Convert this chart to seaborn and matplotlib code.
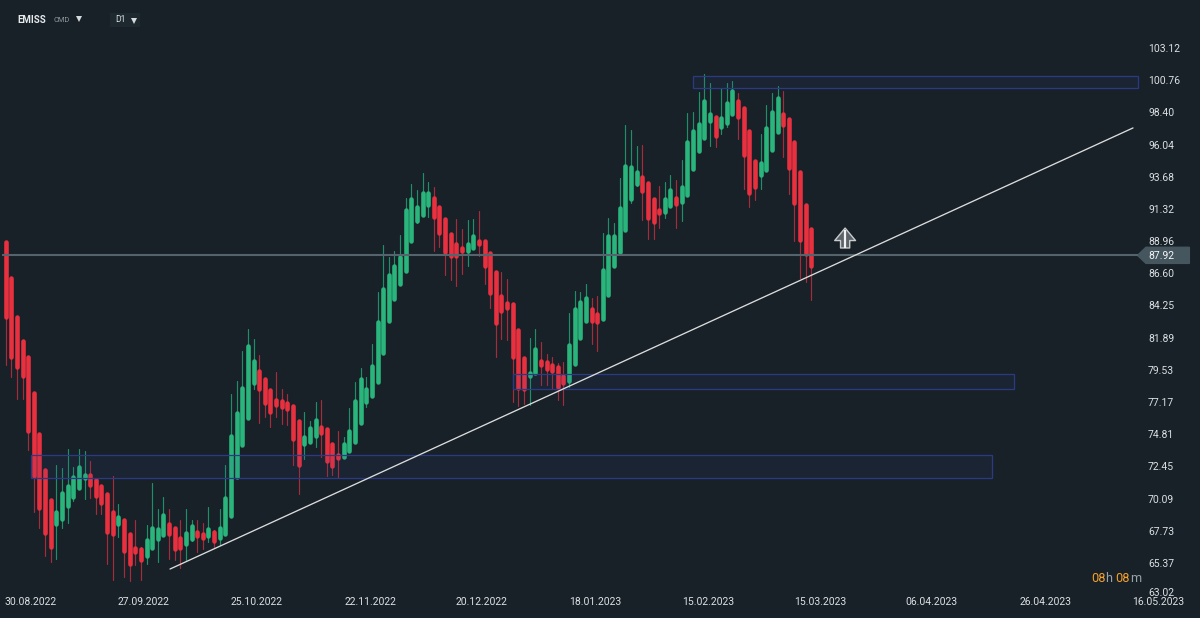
import matplotlib
matplotlib.use("Agg")
import matplotlib.pyplot as plt
from matplotlib.patches import Rectangle
import pandas as pd
import seaborn as sns

BG = "#182128"
UP_BODY, UP_WICK = "#2ab57d", "#1f8f68"
DOWN_BODY, DOWN_WICK = "#e8303f", "#a52c3c"
TEXT = "#dbe0e3"

open_prices = [
    88.88, 86.24, 83.38, 81.64, 80.44, 77.80, 74.82, 72.18, 69.98, 68.20,
    68.62, 69.54, 70.23, 70.89, 71.60, 71.79, 71.45, 71.01, 70.42, 69.08,
    68.22, 68.52, 67.47, 66.44, 66.39, 65.90, 66.44, 67.15, 67.39, 68.22,
    67.96, 67.20, 66.78, 67.10, 67.64, 67.52, 67.34, 67.64, 67.20, 67.52,
    68.81, 71.69, 74.01, 76.02, 78.56, 79.46, 78.85, 78.05, 77.29, 77.24,
    77.09, 76.90, 75.77, 74.06, 74.26, 74.70, 75.36, 75.19, 74.06, 73.30,
    73.13, 73.57, 74.26, 75.65, 77.14, 77.61, 78.61, 80.76, 83.08, 84.74,
    85.84, 86.75, 88.95, 90.46, 90.90, 91.63, 92.10, 91.46, 90.56, 89.46,
    88.75, 88.43, 88.24, 88.43, 88.95, 88.95, 88.09, 86.70, 84.91, 84.40,
    84.33, 82.42, 80.37, 79.10, 79.27, 80.17, 80.07, 79.88, 79.71, 79.10,
    78.73, 79.93, 81.88, 83.13, 84.01, 83.64, 83.27, 85.04, 87.11, 88.19,
    89.75, 92.03, 93.13, 93.66, 93.22, 92.03, 91.27, 91.07, 91.54, 92.12,
    91.86, 92.35, 94.25, 95.57, 96.50, 97.77, 98.09, 97.33, 97.65, 98.31,
    99.21, 98.72, 97.06, 94.84, 93.84, 94.18, 95.67, 96.99, 98.26, 97.94,
    96.23, 94.03, 91.61, 89.88,
]
high_prices = [
    88.88, 86.24, 83.38, 81.64, 80.44, 77.80, 74.82, 72.18, 69.98, 72.55,
    72.31, 73.70, 72.43, 73.75, 73.58, 72.87, 71.57, 71.01, 70.47, 71.77,
    69.67, 68.52, 67.47, 68.52, 66.56, 68.15, 71.21, 69.32, 70.23, 69.30,
    67.96, 68.52, 69.30, 68.52, 68.52, 68.27, 69.49, 67.78, 69.32, 72.55,
    77.73, 78.73, 80.93, 82.52, 81.76, 80.61, 78.85, 78.05, 79.39, 78.10,
    77.73, 76.90, 75.77, 76.46, 75.77, 77.19, 77.31, 75.19, 74.06, 75.06,
    74.62, 76.75, 78.66, 79.63, 78.98, 81.42, 85.21, 88.68, 87.82, 88.24,
    89.41, 92.15, 93.13, 92.71, 93.93, 93.32, 92.95, 91.46, 90.56, 89.46,
    90.56, 89.85, 90.51, 90.56, 91.17, 88.95, 88.09, 86.70, 86.67, 86.16,
    84.33, 82.42, 80.37, 81.83, 82.52, 81.59, 80.69, 80.49, 80.05, 80.07,
    83.72, 85.30, 85.26, 85.82, 84.77, 84.94, 89.53, 90.68, 90.27, 93.62,
    97.48, 97.11, 95.94, 96.01, 93.22, 92.03, 92.98, 93.27, 93.84, 93.44,
    94.91, 98.33, 98.46, 99.92, 101.19, 100.58, 98.09, 100.17, 100.58, 100.70,
    99.80, 98.72, 97.06, 94.84, 96.82, 98.94, 99.85, 100.34, 99.97, 97.94,
    96.23, 94.03, 91.61, 89.88,
]
low_prices = [
    79.88, 79.03, 77.36, 77.36, 73.65, 69.13, 67.91, 65.90, 65.46, 65.63,
    67.91, 68.27, 69.94, 70.84, 70.03, 70.15, 68.96, 68.93, 65.27, 64.12,
    67.30, 64.31, 64.04, 65.22, 64.12, 65.27, 66.39, 65.46, 67.34, 65.63,
    65.58, 64.97, 65.58, 66.98, 66.20, 66.37, 66.88, 66.44, 66.68, 67.49,
    68.76, 71.65, 74.01, 76.02, 78.10, 75.60, 76.04, 75.36, 76.09, 75.53,
    75.48, 72.55, 70.40, 72.96, 74.26, 73.89, 73.16, 71.74, 71.81, 71.62,
    73.11, 73.52, 74.26, 75.65, 76.77, 77.61, 78.61, 80.76, 83.08, 84.74,
    85.84, 86.75, 88.95, 90.27, 90.88, 90.71, 88.24, 88.56, 86.48, 86.11,
    85.65, 86.53, 87.16, 88.43, 87.87, 85.82, 84.03, 80.49, 81.79, 81.71,
    77.19, 76.90, 77.00, 76.95, 79.27, 78.41, 78.41, 78.10, 77.31, 76.95,
    78.29, 79.93, 81.88, 83.13, 81.42, 80.93, 83.27, 85.04, 87.11, 88.19,
    89.75, 91.73, 93.03, 90.51, 89.09, 89.12, 89.90, 90.63, 91.49, 89.90,
    90.44, 92.35, 94.25, 95.57, 96.50, 95.94, 95.84, 96.82, 97.36, 98.31,
    96.45, 92.76, 91.49, 91.98, 92.76, 94.18, 95.67, 96.99, 95.16, 92.42,
    88.95, 86.24, 85.99, 84.65,
]
close_prices = [
    83.38, 80.44, 79.76, 79.08, 75.07, 71.77, 69.42, 67.59, 66.51, 69.13,
    70.52, 71.03, 71.65, 72.43, 71.79, 71.11, 70.30, 69.76, 67.66, 67.52,
    68.71, 66.27, 65.27, 66.20, 65.58, 67.05, 67.93, 67.83, 68.88, 67.52,
    66.39, 66.44, 67.56, 68.08, 67.32, 67.20, 67.83, 66.95, 67.93, 70.15,
    74.68, 76.39, 78.17, 81.27, 80.20, 78.10, 77.09, 76.46, 76.95, 76.82,
    76.65, 74.48, 72.57, 74.58, 75.26, 75.82, 74.89, 72.87, 72.45, 73.08,
    74.06, 75.06, 77.21, 78.85, 78.10, 79.81, 83.01, 85.45, 86.48, 87.11,
    87.82, 91.24, 92.07, 91.46, 92.49, 92.49, 90.73, 89.58, 88.16, 87.87,
    87.87, 88.24, 88.75, 89.31, 88.75, 87.16, 85.16, 82.93, 83.86, 84.08,
    80.49, 78.17, 78.10, 79.27, 81.05, 79.88, 79.56, 79.44, 78.29, 78.56,
    81.32, 83.96, 84.50, 84.77, 83.08, 83.03, 86.85, 89.36, 89.36, 91.37,
    94.47, 94.42, 94.03, 92.66, 90.63, 90.39, 91.00, 92.03, 92.71, 91.66,
    92.93, 96.23, 97.01, 97.55, 99.21, 98.26, 96.70, 98.01, 99.09, 99.95,
    98.06, 95.30, 92.52, 92.96, 94.67, 97.23, 98.46, 99.46, 97.50, 94.35,
    91.76, 89.05, 87.99, 87.14,
]

date_labels = ["30.08.2022", "27.09.2022", "25.10.2022", "22.11.2022", "20.12.2022",
               "18.01.2023", "15.02.2023", "15.03.2023", "06.04.2023", "26.04.2023",
               "16.05.2023"]
date_ticks = [4.5, 24.55, 44.6, 64.7, 84.5, 104.6, 124.7, 144.5, 164.4, 184.5, 204.5]

price_labels = ["103.12", "100.76", "98.40", "96.04", "93.68", "91.32", "88.96", "87.92",
                "86.60", "84.25", "81.89", "79.53", "77.17", "74.81", "72.45", "70.09",
                "67.73", "65.37", "63.02"]
price_ticks = [103.12, 100.76, 98.40, 96.04, 93.68, 91.32, 88.96, 87.92,
               86.60, 84.25, 81.89, 79.53, 77.17, 74.81, 72.45, 70.09,
               67.73, 65.37, 63.24]

# Supply and demand zones: first bar, last bar, lower price, upper price
zone_start = [122.0, 90.1, 4.5]
zone_end = [201.0, 179.0, 175.1]
zone_low = [100.19, 78.10, 71.60]
zone_high = [101.10, 79.24, 73.28]

support_bars = [29.17, 200.1]
support_prices = [64.92, 97.26]
current_level = 87.92
arrow_bar = 149.0
arrow_prices = [88.46, 89.92]

sns.set_theme(style="dark", rc={
    "figure.facecolor": BG, "axes.facecolor": BG, "axes.edgecolor": BG,
    "xtick.color": TEXT, "ytick.color": TEXT,
})
plt.rcParams["font.family"] = ["Roboto", "DejaVu Sans"]

fig = plt.figure(figsize=(12, 6.18), dpi=100)
ax = fig.add_axes([0, 0, 1, 1])

candles = pd.DataFrame({"bar": range(len(open_prices)), "open": open_prices, "high": high_prices,
                        "low": low_prices, "close": close_prices})
candles["direction"] = ["up" if c >= o else "down" for o, c in zip(open_prices, close_prices)]

wicks = candles.melt(id_vars=["bar", "direction"], value_vars=["high", "low"], value_name="price")
bodies = candles.melt(id_vars=["bar", "direction"], value_vars=["open", "close"], value_name="price")

sns.lineplot(data=wicks, x="bar", y="price", hue="direction", units="bar", estimator=None,
             palette={"up": UP_WICK, "down": DOWN_WICK}, linewidth=0.85, sort=False,
             legend=False, ax=ax)
sns.lineplot(data=bodies, x="bar", y="price", hue="direction", units="bar", estimator=None,
             palette={"up": UP_BODY, "down": DOWN_BODY}, linewidth=3.3, sort=False,
             legend=False, ax=ax)

for start, end, low, high in zip(zone_start, zone_end, zone_low, zone_high):
    ax.add_patch(Rectangle((start, low), end - start, high - low, facecolor=(0.2, 0.3, 0.6, 0.09),
                           edgecolor="#2b3a85", linewidth=0.9, zorder=3))

# Current price level with its tag on the price scale
ax.hlines(current_level, -0.7, 200.9, color="#55636c", linewidth=1.5, zorder=4)
ax.fill([200.9, 202.4, 210.1, 210.1, 202.4], [current_level, current_level + 0.59, current_level + 0.59,
        current_level - 0.59, current_level - 0.59], color="#46565f", zorder=1)

sns.lineplot(x=support_bars, y=support_prices, color="#dcdcdc", linewidth=0.95, ax=ax, zorder=5)

ax.annotate("", xy=(arrow_bar, arrow_prices[1]), xytext=(arrow_bar, arrow_prices[0]), zorder=6,
            arrowprops=dict(arrowstyle="simple,head_length=0.75,head_width=1.25,tail_width=0.55",
                            fc="#5a6368", ec="#c9cccd", lw=1.0, shrinkA=0, shrinkB=0))
ax.vlines(arrow_bar, arrow_prices[0], arrow_prices[1] - 0.12, color="#f2f2f2", linewidth=1.6, zorder=7)

# Timeframe selector background sits in the axes so its marker stays on top
ax.add_patch(Rectangle((110 / 1200, 1 - 27 / 618), 30 / 1200, 14 / 618, transform=ax.transAxes,
                       facecolor="#1e282f", edgecolor="none", zorder=1))

ax.set_xlim(-1.006, 211.99)
ax.set_ylim(61.33, 106.64)
ax.set_xlabel("")
ax.set_ylabel("")
ax.set_axisbelow(False)
ax.grid(False)
for spine in ax.spines.values():
    spine.set_visible(False)

ax.set_xticks(date_ticks, date_labels)
ax.set_yticks(price_ticks, price_labels)
ax.yaxis.tick_right()
ax.tick_params(axis="x", length=0, pad=-14.9, labelsize=7.5, labelcolor=TEXT)
ax.tick_params(axis="y", length=0, pad=-37.4, labelsize=7.5, labelcolor=TEXT)
ax.get_yticklabels()[price_labels.index("87.92")].set_color("#f4f6f7")


def top_text(x, y, s, **kw):
    fig.text(x / 1200, 1 - y / 618, s, va="center", **kw)


top_text(17, 20, "EMISS", color="#e6eaec", fontsize=7, fontweight="bold", zorder=2)
top_text(54, 20, "CMD", color="#8d989f", fontsize=5.4, zorder=2)
top_text(115, 20, "D1", color="#dbe0e3", fontsize=6.2, zorder=2)
ax.plot([79 / 1200, 134 / 1200], [1 - 18.5 / 618, 1 - 20.5 / 618], linestyle="none", marker="v",
        markersize=4.5, color="#d5dadd", markeredgewidth=0, transform=ax.transAxes, zorder=8)

# Countdown to the next bar
for x, part, colour in [(1091.5, "08", "#f5a02a"), (1105.5, "h", "#98a2a8"),
                        (1115.5, "08", "#f5a02a"), (1130, "m", "#98a2a8")]:
    top_text(x, 579, part, color=colour, fontsize=9.2, zorder=2)

fig.savefig("out.png", dpi=100, facecolor=BG)
